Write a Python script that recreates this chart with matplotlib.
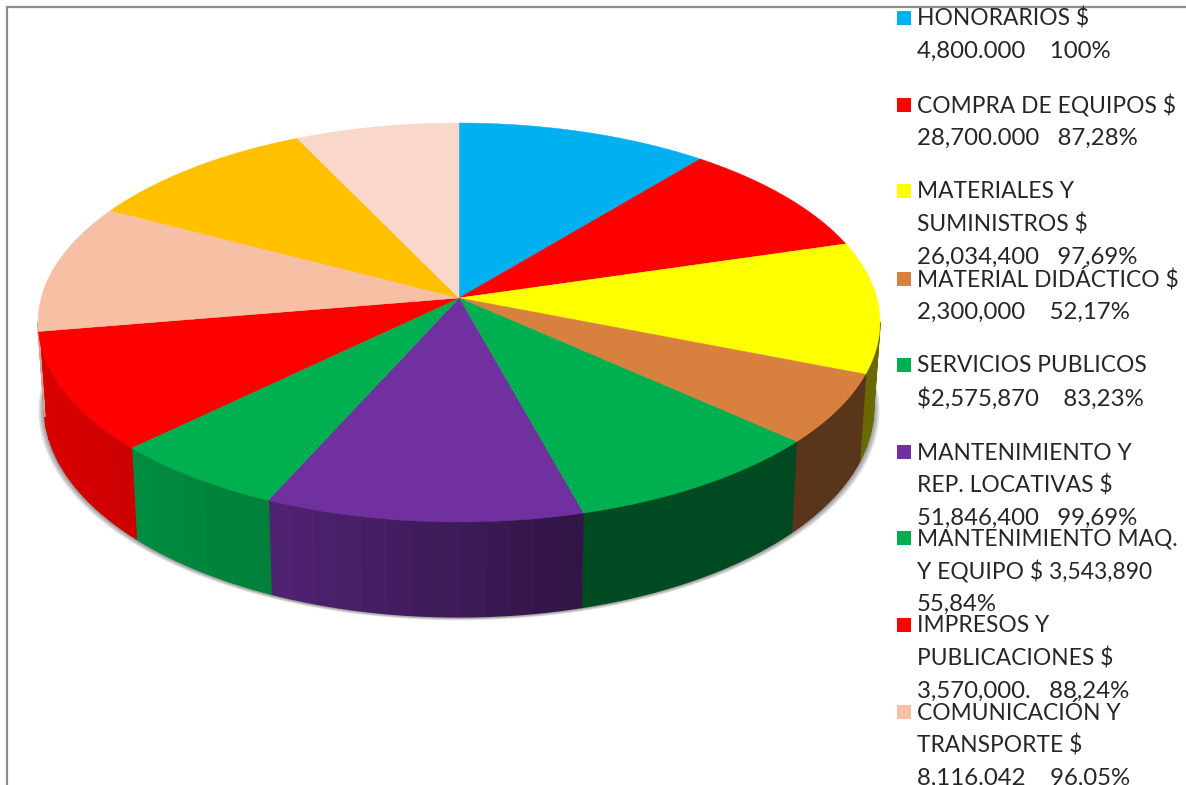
"""
Torta 3D de ejecucion presupuestal con leyenda a la derecha
"""
import numpy as np
import matplotlib
matplotlib.use("Agg")
import matplotlib.pyplot as plt
from matplotlib.colors import to_rgb

plt.rcParams['font.family'] = ['Lato', 'DejaVu Sans']

# porcentajes, el tamano de cada porcion sale de aqui
values = [100, 87.28, 97.69, 52.17, 83.23, 99.69, 55.84, 88.24, 96.05, 93, 65]
colors = ['#00B0F0', '#FF0000', '#FFFF00', '#D8803E', '#00B050', '#7030A0',
          '#00B050', '#FF0000', '#F7C0A4', '#FFC000', '#F9D7CA']
legend_labels = [
    "HONORARIOS $\n4,800.000    100%",
    "COMPRA DE EQUIPOS $\n28,700.000   87,28%",
    "MATERIALES Y\nSUMINISTROS $\n26,034,400   97,69%",
    "MATERIAL DIDÁCTICO $\n2,300,000    52,17%",
    "SERVICIOS PUBLICOS\n$2,575,870    83,23%",
    "MANTENIMIENTO Y\nREP. LOCATIVAS $\n51,846,400   99,69%",
    "MANTENIMIENTO MAQ.\nY EQUIPO $ 3,543,890\n55,84%",
    "IMPRESOS Y\nPUBLICACIONES $\n3,570,000.   88,24%",
    "COMUNICACIÓN Y\nTRANSPORTE $\n8,116.042    96,05%",
]
legend_tops = [18, 105, 191, 279, 365, 452, 538, 625, 712]

W, H = 1186, 785
CX, CY = 459, 298
PERSP = 0.1228


def top_rim(ang):
    # angulo en sentido horario desde arriba -> pixeles, con perspectiva
    u, v = np.sin(ang), np.cos(ang)
    d = PERSP * v + 1
    return CX + 417.8 * u / d, (-159.9 * v + CY) / d


def bottom_rim(ang):
    x, y = top_rim(ang)
    return CX + (x - CX) * 0.985, y + 87.5 + (y - 375) * 0.05


def side_shade(x):
    return np.interp(x, [38, 132, 270, 460, 580, 880], [0.85, 0.8, 0.72, 0.55, 0.43, 0.41])


fig = plt.figure(figsize=(W / 100, H / 100), dpi=100)
ax = fig.add_axes([0, 0, 1, 1])
ax.set_xlim(0, W)
ax.set_ylim(H, 0)
ax.axis("off")

# marco gris
ax.plot([7, 7, W], [H, 7, 7], color="#8c8c8c", lw=1.6, solid_joinstyle="miter")

edges = np.radians(np.concatenate([[0], np.cumsum(values)]) / np.sum(values) * 360)
vis_start, vis_end = np.radians(97), np.radians(263)

# sombra suave debajo del borde
full = np.linspace(vis_start - 0.15, vis_end + 0.15, 240)
for k in [6, 5, 4, 3, 2, 1]:
    sx, sy = bottom_rim(full)
    ax.fill(CX + (sx - CX) * (1 + k / 415), sy + k * 0.5 + 0.5,
            color="black", alpha=0.08, lw=0, zorder=1)

# costado, tiras de 3 grados para el degradado
for i, c in enumerate(colors):
    a0, a1 = max(edges[i], vis_start), min(edges[i + 1], vis_end)
    if a1 <= a0:
        continue
    n = max(2, int(np.degrees(a1 - a0) / 3) + 1)
    steps = np.linspace(a0, a1, n)
    rgb = np.array(to_rgb(c))
    for s0, s1 in zip(steps[:-1], steps[1:]):
        t = np.linspace(s0, s1, 6)
        tx, ty = top_rim(t)
        bx, by = bottom_rim(t)
        col = rgb * side_shade(tx.mean())
        ax.fill(np.r_[tx, bx[::-1]], np.r_[ty, by[::-1]], color=col, lw=1.0, zorder=2)

# cara superior
for i, c in enumerate(colors):
    t = np.linspace(edges[i], edges[i + 1], 80)
    rx, ry = top_rim(t)
    ax.fill(np.r_[CX, rx], np.r_[CY, ry], color=c, lw=0.3, zorder=3)

# leyenda
for label, c, top in zip(legend_labels, colors, legend_tops):
    ax.fill([897, 911, 911, 897], [top - 7, top - 7, top + 7, top + 7], color=c, lw=0, zorder=4)
    for j, line in enumerate(label.split("\n")):
        # las cifras salen algo mas anchas en el original
        size = 17.3 if line[0].isdigit() or line[0] == "$" else 16.4
        ax.text(917, top + 1 + j * 32.6, line, fontsize=size, color="#262626",
                va="center", ha="left", zorder=5)

fig.savefig("out.png", dpi=100)
